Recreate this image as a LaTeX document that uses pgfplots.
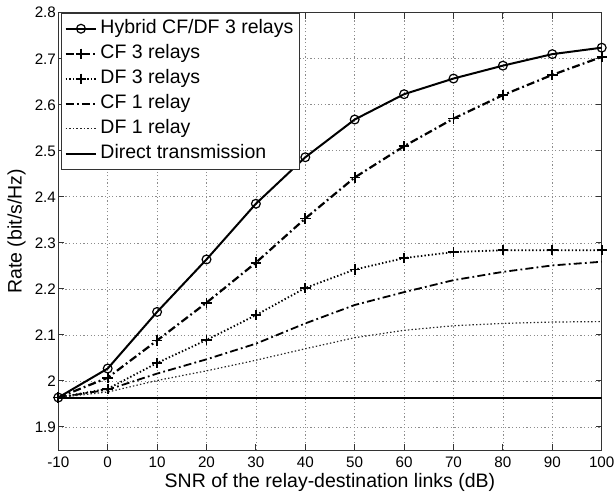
\documentclass[border=0pt]{standalone}
\usepackage{fontspec}
\setmainfont{Liberation Sans}
\usepackage{pgfplots}
\pgfplotsset{compat=1.18}

\newcommand{\lblfont}{\fontsize{9.75}{11.7}\selectfont}
\newcommand{\tickfont}{\fontsize{7.6}{9}\selectfont}

\pgfplotsset{
    matlab dashdot/.style={dash pattern=on 4pt off 1.6pt on 0.9pt off 1.6pt},
    matlab dot/.style={dash pattern=on 0.7pt off 1.1pt},
}

\begin{document}
\begin{tikzpicture}
% page frame: axis box sits at (0,0) -- (271.7pt,218.65pt)
\useasboundingbox (-29.15pt,-21.65pt) rectangle (278.35pt,225pt);
\begin{axis}[
    at={(0,0)}, anchor=south west,
    scale only axis,
    width=271.7pt, height=218.65pt,
    xmin=-10, xmax=100, ymin=1.85, ymax=2.8,
    xtick={-10,0,10,20,30,40,50,60,70,80,90,100},
    ytick={1.9,2.0,2.1,2.2,2.3,2.4,2.5,2.6,2.7,2.8},
    /pgf/number format/assume math mode=true,
    tick label style={font=\tickfont},
    yticklabel style={inner sep=1pt},
    label style={font=\lblfont},
    xlabel={SNR of the relay-destination links (dB)},
    ylabel={Rate (bit/s/Hz)},
    xlabel style={yshift=4pt},
    tick align=inside,
    major tick length=3pt,
    axis line style={black!80, line width=0.5pt},
    every tick/.style={black!80, line width=0.5pt},
    grid=major,
    major grid style={black!45, line width=0.35pt, dash pattern=on 0.6pt off 1.2pt},
    legend cell align=left,
    legend style={at={(0.005,1)}, anchor=north west, draw=black!80, fill=white,
                  line width=0.5pt, font=\lblfont, inner sep=1.5pt,
                  nodes={inner sep=1.5pt, text height=0.72em, text depth=0.23em}},
    legend image code/.code={\draw[mark repeat=2, mark phase=2, #1]
        plot coordinates {(0cm,0cm) (0.27cm,0cm) (0.54cm,0cm)};},
]
\addplot[black, line width=1pt, mark=o, mark size=2.2pt, mark options={solid, line width=0.6pt}]
    coordinates {(-10,1.964) (0,2.027) (10,2.150) (20,2.264) (30,2.385) (40,2.486)
                 (50,2.568) (60,2.623) (70,2.657) (80,2.685) (90,2.710) (100,2.724)};
\addlegendentry{Hybrid CF/DF 3 relays}
\addplot[black, line width=1.1pt, matlab dashdot, mark=+, mark size=2.6pt, mark options={solid, line width=0.9pt}]
    coordinates {(-10,1.964) (0,2.007) (10,2.088) (20,2.170) (30,2.257) (40,2.353)
                 (50,2.442) (60,2.510) (70,2.570) (80,2.621) (90,2.665) (100,2.704)};
\addlegendentry{CF 3 relays}
\addplot[black, line width=0.9pt, matlab dot, mark=+, mark size=2.6pt, mark options={solid, line width=0.9pt}]
    coordinates {(-10,1.964) (0,1.983) (10,2.039) (20,2.089) (30,2.143) (40,2.202)
                 (50,2.242) (60,2.267) (70,2.280) (80,2.284) (90,2.284) (100,2.284)};
\addlegendentry{DF 3 relays}
\addplot[black, line width=0.9pt, matlab dashdot]
    coordinates {(-10,1.964) (0,1.981) (10,2.016) (20,2.047) (30,2.081) (40,2.125)
                 (50,2.165) (60,2.193) (70,2.219) (80,2.237) (90,2.251) (100,2.259)};
\addlegendentry{CF 1 relay}
\addplot[black!85, line width=0.6pt, matlab dot]
    coordinates {(-10,1.964) (0,1.976) (10,2.001) (20,2.022) (30,2.045) (40,2.070)
                 (50,2.094) (60,2.110) (70,2.120) (80,2.125) (90,2.128) (100,2.129)};
\addlegendentry{DF 1 relay}
\addplot[black, line width=1pt]
    coordinates {(-10,1.964) (100,1.964)};
\addlegendentry{Direct transmission}
\end{axis}
\end{tikzpicture}
\end{document}
